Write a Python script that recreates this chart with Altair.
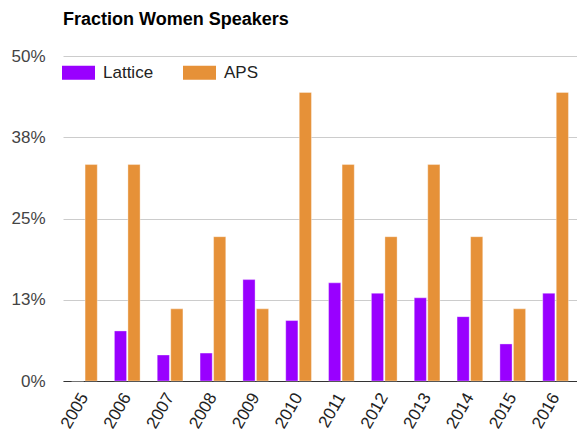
import altair as alt
import pandas as pd

years = ["2005", "2006", "2007", "2008", "2009", "2010", "2011", "2012", "2013", "2014", "2015", "2016"]
lattice = [0.0, 0.077, 0.040, 0.043, 0.156, 0.093, 0.151, 0.135, 0.128, 0.099, 0.057, 0.135]
aps = [0.333, 0.333, 0.111, 0.222, 0.111, 0.444, 0.333, 0.222, 0.333, 0.222, 0.111, 0.444]
series = ["Lattice", "APS"]
colors = ["#9900ff", "#e69138"]

rows = []
for y, l, a in zip(years, lattice, aps):
    rows.append({"year": y, "series": "Lattice", "value": l})
    rows.append({"year": y, "series": "APS", "value": a})
df = pd.DataFrame(rows)

font = "Arial, Liberation Sans, sans-serif"

chart = alt.Chart(df).mark_bar(strokeWidth=1, strokeOpacity=0.35, stroke="white").encode(
    x=alt.X("year:N", sort=years, title=None,
            scale=alt.Scale(paddingInner=0.4, paddingOuter=0.2),
            axis=alt.Axis(labelAngle=-60, labelFontSize=17, labelColor="#222222",
                          labelFont=font, ticks=False, domainColor="#333333",
                          labelPadding=13)),
    xOffset=alt.XOffset("series:N", sort=series, scale=alt.Scale(paddingInner=0.1)),
    y=alt.Y("value:Q", title=None,
            scale=alt.Scale(domain=[0, 0.5]),
            axis=alt.Axis(values=[0, 0.125, 0.25, 0.375, 0.5], format=".0%",
                          labelFontSize=17, labelColor="#444444", labelFont=font,
                          ticks=False, domain=False, gridColor="#cccccc",
                          labelPadding=18)),
    color=alt.Color("series:N", sort=series,
                    scale=alt.Scale(domain=series, range=colors),
                    legend=alt.Legend(title=None, orient="none", legendX=-1, legendY=0,
                                      direction="horizontal",
                                      symbolType="M-1,-0.42H1V0.42H-1Z",
                                      symbolSize=1089, symbolStrokeWidth=0,
                                      symbolOpacity=1,
                                      labelFontSize=17, labelColor="#222222",
                                      labelFont=font, labelOffset=8,
                                      columnPadding=29)),
).properties(
    width=514,
    height=325,
    autosize=alt.AutoSizeParams(type="none"),
    padding={"left": 55, "top": 48, "right": 0, "bottom": 57},
    title=alt.TitleParams("Fraction Women Speakers", anchor="start", frame="group",
                          fontSize=18, font=font, fontWeight="bold", color="#000000",
                          offset=18),
).configure_view(stroke=None)

chart.save("out.html", embed_options={"renderer": "svg", "actions": False})
